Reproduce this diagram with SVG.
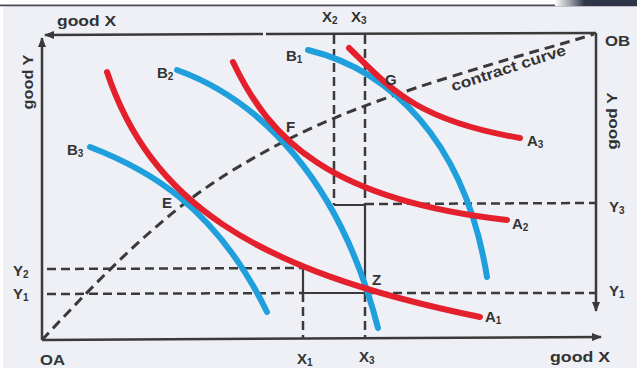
<svg xmlns="http://www.w3.org/2000/svg" width="637" height="370" viewBox="0 0 637 370">
<defs>
<marker id="ah" viewBox="0 0 10 8" refX="9" refY="4" markerWidth="10" markerHeight="8" markerUnits="userSpaceOnUse" orient="auto">
<path d="M0,0 L10,4 L0,8 z" fill="#3a3a3a"/>
</marker>
<linearGradient id="tab" x1="0" y1="0" x2="1" y2="0">
<stop offset="0" stop-color="#ffffff"/>
<stop offset="0.5" stop-color="#9aa0a8"/>
<stop offset="1" stop-color="#2d3547"/>
</linearGradient>
<style>
.axis{stroke:#3a3a3a;stroke-width:2.5;fill:none}
.solid{stroke:#3a3a3a;stroke-width:2.2;fill:none}
.dash{stroke:#3a3a3a;stroke-width:2.5;fill:none;stroke-dasharray:9 5}
.cc{stroke:#3a3a3a;stroke-width:3;fill:none;stroke-dasharray:10 6}
.blue{stroke:#1f9fdb;stroke-width:6;fill:none;stroke-linecap:round}
.red{stroke:#e3202b;stroke-width:6;fill:none;stroke-linecap:round}
text{font-family:"Liberation Sans",Arial,sans-serif;font-weight:bold;fill:#333333}
.lbl{font-size:15px}
.sub{font-size:10px}
</style>
</defs>
<rect x="0" y="0" width="637" height="370" fill="#ffffff"/>
<rect x="3" y="6" width="634" height="362" fill="#eef0f6"/>
<rect x="0" y="4.5" width="637" height="1.8" fill="#4a4f5a"/>
<rect x="555" y="0" width="30" height="6" fill="url(#tab)"/>
<rect x="585" y="0" width="52" height="6" fill="#2d3547"/>

<g id="frame">
<line class="axis" x1="596" y1="33" x2="266" y2="34"/>
<line class="axis" x1="263" y1="34" x2="45" y2="35" marker-end="url(#ah)"/>
<line class="axis" x1="42" y1="340" x2="42" y2="38" marker-end="url(#ah)"/>
<line class="axis" x1="596" y1="33" x2="596" y2="311" marker-end="url(#ah)"/>
<line class="axis" x1="42" y1="340" x2="601" y2="337" marker-end="url(#ah)"/>
</g>

<g id="connectors">
<path class="cc" d="M42,340 C100,278 160,215 230,172 S360,105 450,77 S560,45 594,34"/>
<line class="dash" x1="334" y1="35" x2="334" y2="205"/>
<line class="dash" x1="365" y1="35" x2="365" y2="205"/>
<path class="solid" d="M334,205 L365,205 L365,293"/>
<line class="dash" x1="365" y1="204" x2="595" y2="203"/>
<line class="dash" x1="47" y1="269" x2="303" y2="268"/>
<line class="dash" x1="47" y1="294" x2="303" y2="293"/>
<path class="solid" d="M303,268 L303,293 L365,293"/>
<line class="dash" x1="303" y1="293" x2="303" y2="339"/>
<line class="dash" x1="365" y1="293" x2="365" y2="338"/>
<line class="dash" x1="365" y1="293" x2="595" y2="293"/>
</g>

<g id="B3"><path class="blue" d="M90,147 C145,168 215,205 267,312"/><text class="lbl" x="67" y="155">B<tspan class="sub" dy="2">3</tspan></text></g>
<g id="B2"><path class="blue" d="M177,70 C260,100 340,180 378,328"/><text class="lbl" x="157" y="78">B<tspan class="sub" dy="2">2</tspan></text></g>
<g id="B1"><path class="blue" d="M308,50 C390,70 465,140 487,277"/><text class="lbl" x="286" y="61">B<tspan class="sub" dy="2">1</tspan></text></g>

<g id="A1"><path class="red" d="M107,72 C150,200 250,270 480,317"/><text class="lbl" x="485" y="322">A<tspan class="sub" dy="2">1</tspan></text></g>
<g id="A2"><path class="red" d="M233,62 C270,140 330,200 507,220"/><text class="lbl" x="512" y="229">A<tspan class="sub" dy="2">2</tspan></text></g>
<g id="A3"><path class="red" d="M349,48 C390,88 415,120 520,138"/><text class="lbl" x="527" y="146">A<tspan class="sub" dy="2">3</tspan></text></g>

<g id="points">
<text class="lbl" x="162" y="208">E</text>
<text class="lbl" x="286" y="132">F</text>
<text class="lbl" x="385" y="85">G</text>
<text class="lbl" x="372" y="285">Z</text>
</g>

<g id="labels">
<text class="lbl" x="57" y="26" font-size="16" textLength="59" lengthAdjust="spacingAndGlyphs">good X</text>
<text class="lbl" x="550" y="362" textLength="60" lengthAdjust="spacingAndGlyphs">good X</text>
<text class="lbl" transform="translate(33,82) rotate(-90)" text-anchor="middle" textLength="55" lengthAdjust="spacingAndGlyphs">good Y</text>
<text class="lbl" transform="translate(617,121) rotate(-90)" text-anchor="middle" textLength="57" lengthAdjust="spacingAndGlyphs">good Y</text>
<text class="lbl" x="40" y="365" textLength="25" lengthAdjust="spacingAndGlyphs">OA</text>
<text class="lbl" x="605" y="46" textLength="25" lengthAdjust="spacingAndGlyphs">OB</text>
<text class="lbl" x="322" y="22">X<tspan class="sub" dy="2">2</tspan></text>
<text class="lbl" x="351" y="22">X<tspan class="sub" dy="2">3</tspan></text>
<text class="lbl" x="297" y="364">X<tspan class="sub" dy="2">1</tspan></text>
<text class="lbl" x="359" y="362">X<tspan class="sub" dy="2">3</tspan></text>
<text class="lbl" x="13" y="276">Y<tspan class="sub" dy="2">2</tspan></text>
<text class="lbl" x="13" y="299">Y<tspan class="sub" dy="2">1</tspan></text>
<text class="lbl" x="609" y="212">Y<tspan class="sub" dy="2">3</tspan></text>
<text class="lbl" x="609" y="296">Y<tspan class="sub" dy="2">1</tspan></text>
<text class="lbl" transform="translate(510,73) rotate(-18)" text-anchor="middle" font-weight="normal" textLength="120" lengthAdjust="spacingAndGlyphs">contract curve</text>
</g>
</svg>
